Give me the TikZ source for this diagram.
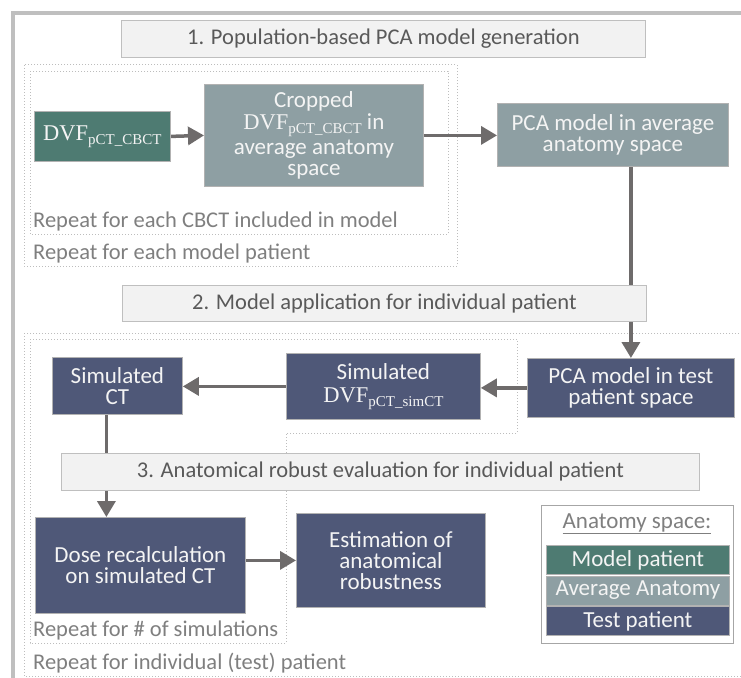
\documentclass[tikz,border=0pt]{standalone}
\usepackage{fontspec}
\setmainfont{Carlito}
\newfontfamily\dvffont{Liberation Serif}
\usetikzlibrary{arrows.meta,backgrounds}
\definecolor{tealc}{HTML}{4E7B72}
\definecolor{avgc}{HTML}{8E9FA3}
\definecolor{navyc}{HTML}{4F5878}
\definecolor{titlefill}{HTML}{F2F2F2}
\definecolor{titledraw}{HTML}{BFBFBF}
\definecolor{titletext}{HTML}{595959}
\definecolor{arrowc}{HTML}{6E6B6B}
\definecolor{dotc}{HTML}{BDBDBD}
\definecolor{labelc}{HTML}{7F7F7F}
\definecolor{boxtext}{HTML}{F4F4F4}
\newcommand{\dvfsub}[1]{{\dvffont\fontsize{22.5}{21}\selectfont DVF\raisebox{-4pt}{\fontsize{15}{15}\selectfont #1}}}
\tikzset{
  basefont/.style={font=\fontsize{23}{21}\selectfont},
  titlefont/.style={font=\fontsize{22.5}{21}\selectfont},
  cbox/.style={basefont, draw=gray!60, line width=0.8pt, text=boxtext, align=center, anchor=north west, inner sep=0pt},
  tealbox/.style={cbox, fill=tealc},
  avgbox/.style={cbox, fill=avgc},
  navybox/.style={cbox, fill=navyc},
  titlebox/.style={titlefont, draw=titledraw, fill=titlefill, line width=0.8pt, text=titletext, anchor=north west, inner sep=0pt},
  replabel/.style={titlefont, text=labelc, anchor=west, inner sep=0pt},
  dotbox/.style={draw=dotc, line width=1pt, dotted},
  conn/.style={draw=arrowc, line width=3.5pt},
  arr/.style={conn, -{Triangle[length=16pt,width=18pt]}},
}
\begin{document}
\begin{tikzpicture}[x=1pt,y=-1pt]
\useasboundingbox (0,0) rectangle (741,677);
% outer frame
\draw[titledraw, line width=4pt] (780,13.5) -- (12.5,13.5) -- (12.5,700);

% titles
\node[titlebox, minimum width=524pt, minimum height=37pt] (t1) at (121,20) {1. Population-based PCA model generation};
\node[titlebox, minimum width=524pt, minimum height=36pt] (t2) at (122,285) {2. Model application for individual patient};
\node[titlebox, minimum width=638pt, minimum height=37pt] (t3) at (61,453) {3. Anatomical robust evaluation for individual patient};

% step 1 boxes
\node[tealbox, minimum width=136pt, minimum height=50pt] (dvf) at (34,111) {\dvfsub{pCT\_CBCT}};
\node[avgbox, minimum width=219pt, minimum height=102pt] (crop) at (204,84) {Cropped\\[1pt]\dvfsub{pCT\_CBCT} in\\[2pt]average anatomy\\space};
\node[avgbox, minimum width=231pt, minimum height=63pt] (pcaavg) at (497,103) {PCA model in average\\anatomy space};

% step 2 boxes
\node[navybox, minimum width=207pt, minimum height=59pt] (pcatest) at (527,358) {PCA model in test\\patient space};
\node[navybox, minimum width=194pt, minimum height=66pt] (simdvf) at (286,353) {Simulated\\[2pt]\dvfsub{pCT\_simCT}};
\node[navybox, minimum width=130pt, minimum height=57pt] (simct) at (52,357) {Simulated\\CT};

% step 3 boxes
\node[navybox, minimum width=210pt, minimum height=96pt] (dose) at (35,517) {Dose recalculation\\on simulated CT};
\node[navybox, minimum width=189pt, minimum height=94pt] (est) at (296,513) {Estimation of\\anatomical\\robustness};

% legend
\node[draw=gray!70, line width=0.8pt, fill=white, minimum width=192pt, minimum height=138pt, anchor=north west, inner sep=0pt] (legend) at (541,505) {};
\node[basefont, text=labelc, inner sep=0pt] (leghead) at (637,524) {\underline{Anatomy space:}};
\node[tealbox, minimum width=183pt, minimum height=29pt] (legmodel) at (546,545) {Model patient};
\node[avgbox, minimum width=183pt, minimum height=29pt] (legavg) at (546,575.5) {Average Anatomy};
\node[navybox, minimum width=183pt, minimum height=29pt] (legtest) at (546,606) {Test patient};

% repeat labels
\node[replabel] (r1) at (33,221) {Repeat for each CBCT included in model};
\node[replabel] (r2) at (33,253) {Repeat for each model patient};
\node[replabel] (r3) at (33,630) {Repeat for \# of simulations};
\node[replabel] (r4) at (33,663) {Repeat for individual (test) patient};

\begin{pgfonlayer}{background}
  % dotted repeat frames
  \draw[dotbox] (24,65) rectangle (457,266);
  \draw[dotbox] (30,71) rectangle (448,234);
  \draw[dotbox] (24,333) rectangle (760,676);
  \draw[dotbox] (30,339) -- (517,339) -- (517,433) -- (286,433) -- (286,643) -- (30,643) -- cycle;
  % connectors
  \draw[arr] (dvf.east) -- (crop.west);
  \draw[arr] (crop.east) -- (crop.east -| pcaavg.west);
  \draw[arr] (pcatest.north |- pcaavg.south) -- (pcatest.north);
  \draw[arr] (pcatest.west) -- (pcatest.west -| simdvf.east);
  \draw[arr] (simdvf.west) -- (simdvf.west -| simct.east);
  \draw[arr] ([xshift=-11pt]simct.south) -- ([xshift=-11pt]simct.south |- dose.north);
  \draw[arr] (dose.east |- est.west) -- (est.west);
\end{pgfonlayer}
\end{tikzpicture}
\end{document}
